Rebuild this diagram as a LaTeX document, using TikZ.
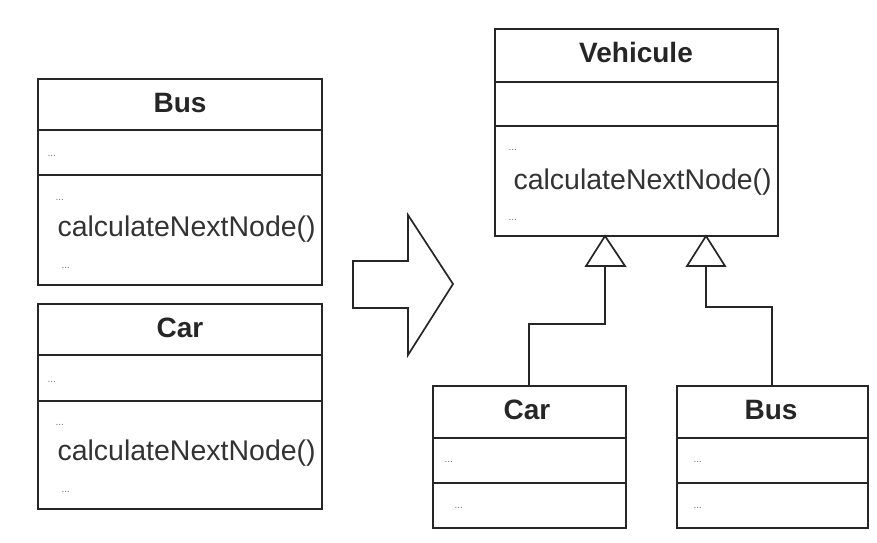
\documentclass[tikz,border=0pt]{standalone}
\usepackage{fontspec}
\setmainfont{Liberation Sans}
\begin{document}
\begin{tikzpicture}[x=1pt,y=-1pt,
  frame/.style={draw=black!85,line width=1.7pt},
  title/.style={font=\fontsize{28}{30}\selectfont\bfseries,text=black!85},
  member/.style={font=\fontsize{28.5}{30}\selectfont,text=black!80},
  tiny/.style={font=\fontsize{10}{11}\selectfont,text=black!55,anchor=west},
  inherit/.style={draw=black!85,line width=1.7pt},
  tri/.style={draw=black!85,line width=1.7pt,fill=white,line join=miter}]
\useasboundingbox (0,0) rectangle (877,542);

% ---- left: Bus ----
\draw[frame] (38,79) rectangle (322,285);
\draw[frame] (38,130) -- (322,130) (38,175) -- (322,175);
\node[title] (busL) at (180,103) {Bus};
\node[tiny] (busLa) at (44,156) {...};
\node[tiny] (busLm1) at (52,200) {...};
\node[member,anchor=west] (busLm) at (54,229) {calculateNextNode()};
\node[tiny] (busLm2) at (58,268) {...};

% ---- left: Car ----
\draw[frame] (38,304) rectangle (322,509);
\draw[frame] (38,355) -- (322,355) (38,401) -- (322,401);
\node[title] (carL) at (180,328) {Car};
\node[tiny] (carLa) at (44,382) {...};
\node[tiny] (carLm1) at (52,425) {...};
\node[member,anchor=west] (carLm) at (54,453) {calculateNextNode()};
\node[tiny] (carLm2) at (58,492) {...};

% ---- block arrow ----
\draw[frame,line join=miter] (353,261) -- (408,261) -- (408,215) -- (453,284)
  -- (408,355) -- (408,308) -- (353,308) -- cycle;

% ---- right: Vehicule ----
\draw[frame] (495,29) rectangle (778,236);
\draw[frame] (495,82) -- (778,82) (495,126) -- (778,126);
\node[title] (veh) at (636,52) {Vehicule};
\node[tiny] (veha) at (505,150) {...};
\node[member,anchor=west] (vehm) at (510,182) {calculateNextNode()};
\node[tiny] (vehm2) at (505,220) {...};

% ---- right: Car ----
\draw[frame] (433,386) rectangle (626,528);
\draw[frame] (433,438) -- (626,438) (433,483) -- (626,483);
\node[title] (carR) at (527,410) {Car};
\node[tiny] (carRa) at (441,462) {...};
\node[tiny] (carRm) at (451,508) {...};

% ---- right: Bus ----
\draw[frame] (677,386) rectangle (868,528);
\draw[frame] (677,438) -- (868,438) (677,483) -- (868,483);
\node[title] (busR) at (771,410) {Bus};
\node[tiny] (busRa) at (690,462) {...};
\node[tiny] (busRm) at (690,508) {...};

% ---- generalisation links ----
\coordinate (tipC) at (605,236);
\coordinate (tipB) at (706,236);
\draw[inherit] (529,386) -- (529,324) -- (605,324) -- (605,266);
\draw[inherit] (772,386) -- (772,307) -- (706,307) -- (706,266);
\draw[tri] (tipC) -- (625,266) -- (586,266) -- cycle;
\draw[tri] (tipB) -- (725,266) -- (687,266) -- cycle;
\end{tikzpicture}
\end{document}
